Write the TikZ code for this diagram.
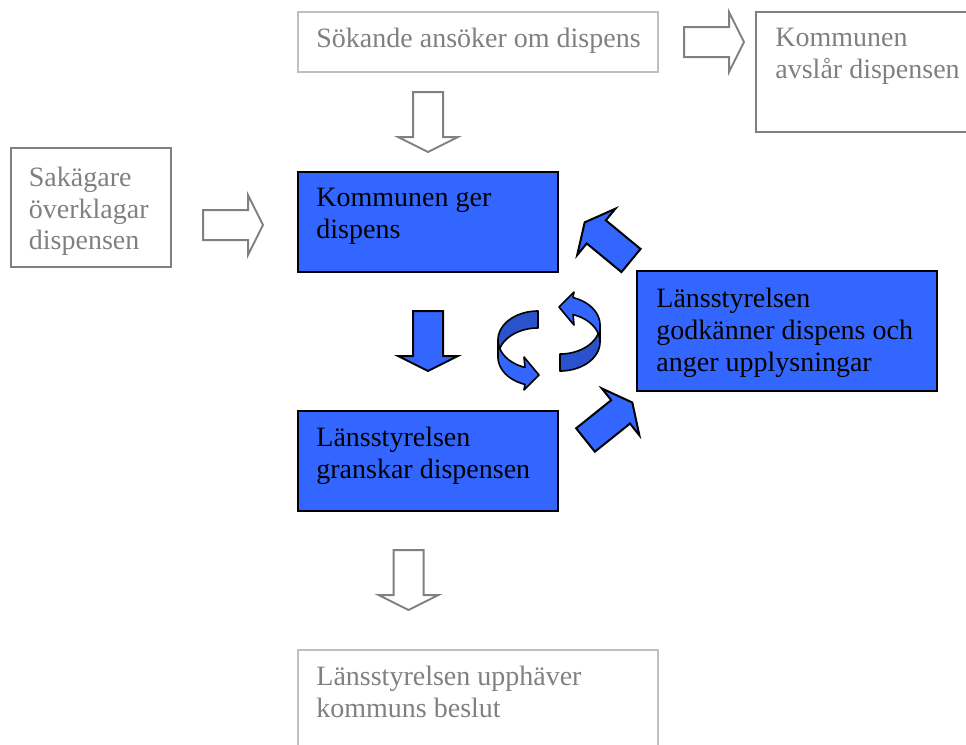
\documentclass[tikz,border=0pt]{standalone}
\usepackage{fontspec}
\setmainfont{Liberation Serif}
\usepackage{xcolor}
\usetikzlibrary{calc}

\definecolor{boxblue}{HTML}{3366FF}
\definecolor{ribbonblue}{HTML}{2A52CC}
\definecolor{textgray}{HTML}{808080}
\definecolor{linegray}{HTML}{C0C0C0}

\tikzset{
	blockarrow/.pic={\path[pic actions] (0,-15) -- (45,-15) -- (45,-30) -- (60,0) -- (45,30) -- (45,15) -- (0,15) -- cycle;},
	grayarrow/.style={draw=textgray, fill=white, line width=1pt},
	bluearrow/.style={draw=black, fill=boxblue, line width=1pt, line join=miter},
	graybox/.style={draw=linegray, line width=1pt, anchor=north west, inner sep=0pt, outer sep=0pt},
	darkbox/.style={graybox, draw=textgray},
	bluebox/.style={graybox, draw=black, fill=boxblue},
	boxtext/.style={anchor=north west, align=left, inner sep=0pt, font=\fontsize{14}{15.85}\selectfont},
	graytext/.style={boxtext, text=textgray},
	ribbon/.style={draw=black, line width=0.8pt, line join=round}
}

\begin{document}
\begin{tikzpicture}[x=0.5pt, y=-0.5pt]
	\useasboundingbox (0,0) rectangle (966,745);
	\clip (0,0) rectangle (966,745);
	
	% boxes
	\node[graybox, minimum width=180pt, minimum height=30pt] (sokande) at (298,12) {};
	\node[darkbox, minimum width=130pt, minimum height=60pt] (avslar) at (756,12) {};
	\node[darkbox, minimum width=80.25pt, minimum height=59.75pt] (sakagare) at (10.5,147.5) {};
	\node[bluebox, minimum width=130pt, minimum height=50pt] (ger) at (298,172) {};
	\node[bluebox, minimum width=150pt, minimum height=60pt] (godk) at (637,271) {};
	\node[bluebox, minimum width=130pt, minimum height=50pt] (gransk) at (298,411) {};
	\node[graybox, minimum width=180pt, minimum height=60pt] (upphav) at (298,650) {};
	
	% texts
	\node[graytext] (sokandetext) at ($(sokande.north west)+(18,16)$) {Sökande ansöker om dispens};
	\node[graytext] (avslartext) at ($(avslar.north west)+(19,16)$) {Kommunen\\avslår dispensen};
	\node[graytext] (sakagaretext) at ($(sakagare.north west)+(18,19)$) {Sakägare\\överklagar\\dispensen};
	\node[boxtext] (gertext) at ($(ger.north west)+(18,16)$) {Kommunen ger\\dispens};
	\node[boxtext] (godktext) at ($(godk.north west)+(19,17)$) {Länsstyrelsen\\godkänner dispens och\\anger upplysningar};
	\node[boxtext] (gransktext) at ($(gransk.north west)+(18,16)$) {Länsstyrelsen\\granskar dispensen};
	\node[graytext] (upphavtext) at ($(upphav.north west)+(18,16)$) {Länsstyrelsen upphäver\\kommuns beslut};
	
	% block arrows
	\pic[grayarrow, rotate=-90] at ($(ger.north)+(0,-80)$) {blockarrow};
	\pic[grayarrow] at ($(sokande.east)+(26,0)$) {blockarrow};
	\pic[grayarrow] at ($(ger.west)+(-95,3)$) {blockarrow};
	\pic[bluearrow, rotate=-90] at ($(ger.south)+(0,39)$) {blockarrow};
	\pic[grayarrow, rotate=-90] at ($(gransk.south)+(-19.5,39)$) {blockarrow};
	\pic[bluearrow, rotate=140.5] at ($(godk.north west)+(-6,-10.5)$) {blockarrow};
	\pic[bluearrow, rotate=38.7] at ($(gransk.east)+(27.5,-21)$) {blockarrow};
	
	% turning arrows
	\foreach \rot in {0,180}{
		\begin{scope}[rotate around={\rot:(549,341)}]
			\draw[ribbon, fill=ribbonblue] plot[domain=270:180, samples=25] ({538+40*cos(\x)},{340+29*sin(\x)})
				-- plot[domain=180:270, samples=25] ({538+40*cos(\x)},{357+29*sin(\x)}) -- cycle;
			\draw[ribbon, fill=boxblue] plot[domain=180:109, samples=25] ({538+40*cos(\x)},{340+29*sin(\x)})
				-- (524,357) -- (539,375) -- (524,390)
				-- plot[domain=109:180, samples=25] ({538+40*cos(\x)},{357+29*sin(\x)}) -- cycle;
		\end{scope}
	}
\end{tikzpicture}
\end{document}
